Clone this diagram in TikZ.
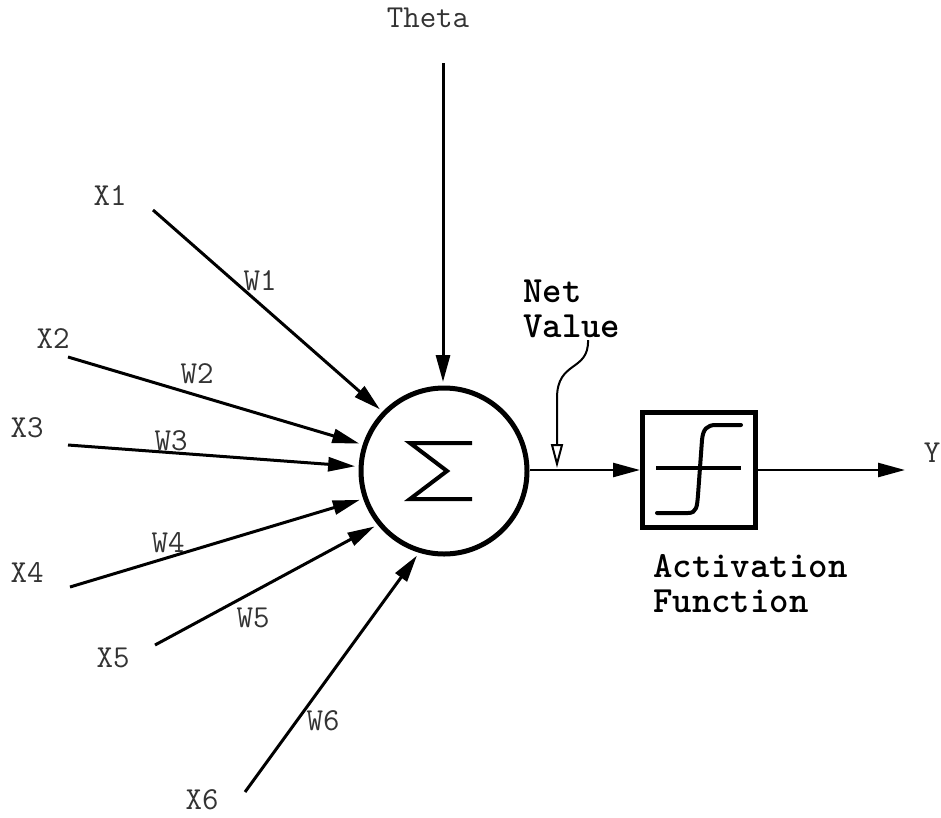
\documentclass[tikz,border=0pt]{standalone}
\usepackage{fontspec}
\usetikzlibrary{arrows.meta}
\begin{document}
\begin{tikzpicture}[x=1pt,y=-1pt,
  lbl/.style={font=\ttfamily\fontsize{32}{32}\selectfont, text=black!80, inner sep=0, anchor=base},
  blbl/.style={font=\ttfamily\bfseries\fontsize{37}{37}\selectfont, inner sep=0, anchor=base west},
  tip/.style={-{Triangle[length=27pt,width=14pt]}},
  inarrow/.style={tip, line width=3pt, shorten >=3.5pt},
  flow/.style={tip, line width=2.5pt}
]
\useasboundingbox (0,0) rectangle (941,817);

% summing junction and activation block
\node[draw, circle, line width=5pt, minimum size=166pt, inner sep=0, outer sep=2.5pt] (sum) at (444,471) {};
\draw[line width=4pt, line join=miter] (472,443) -- (410,443) -- (447,471) -- (410,499) -- (472,499);
\node[draw, line width=5pt, minimum width=113pt, minimum height=115pt, inner sep=0, outer sep=2.5pt] (act) at (699,470) {};
\draw[line width=4pt] (656,468) -- (741,468);
\draw[line width=4pt, line cap=round] (657,513) -- (688,513)
  .. controls (697,513) and (697,506) .. (698,495) -- (702,440)
  .. controls (703,429) and (707,425) .. (716,425) -- (741,425);

% inputs
\coordinate (s1) at (153,210);
\coordinate (s2) at (68,357);
\coordinate (s3) at (68,445);
\coordinate (s4) at (70,587);
\coordinate (s5) at (155,645);
\coordinate (s6) at (245,792);
\coordinate (th) at (443,63);
\draw[inarrow] (s1) -- (sum.136);
\draw[inarrow] (s2) -- (sum.162);
\draw[inarrow] (s3) -- (sum.177);
\draw[inarrow] (s4) -- (sum.199);
\draw[inarrow] (s5) -- (sum.219);
\draw[inarrow] (s6) -- (sum.253);
\draw[inarrow] (th) -- (th |- sum.north);

% outputs
\coordinate (yend) at (905,470);
\draw[flow] (sum.east |- act.west) -- (act.west);
\draw[flow] (act.east) -- (yend);

% net value pointer
\coordinate (nvs) at (588,340);
\coordinate (nvp) at (557,468);
\draw[line width=2pt, -{Triangle[open,length=24pt,width=12pt]}]
  (nvs) .. controls (589,372) and (557,360) .. (557,398) -- (nvp);

% labels
\node[lbl] (theta) at (428,27) {Theta};
\node[lbl] (x1) at (110,205) {X1};
\node[lbl] (x2) at (53,348) {X2};
\node[lbl] (x3) at (27,437) {X3};
\node[lbl] (x4) at (27,582) {X4};
\node[lbl] (x5) at (113,667) {X5};
\node[lbl] (x6) at (202,809) {X6};
\node[lbl] (w1) at (260,290) {W1};
\node[lbl] (w2) at (197,383) {W2};
\node[lbl] (w3) at (171,450) {W3};
\node[lbl] (w4) at (168,552) {W4};
\node[lbl] (w5) at (253,627) {W5};
\node[lbl] (w6) at (323,730) {W6};
\node[lbl] (y) at (932,462) {Y};
\node[blbl] (net) at (523,302) {Net};
\node[blbl] (val) at (523,337) {Value};
\node[blbl] (actl) at (653,577) {Activation};
\node[blbl] (fun) at (653,612) {Function};
\end{tikzpicture}
\end{document}
